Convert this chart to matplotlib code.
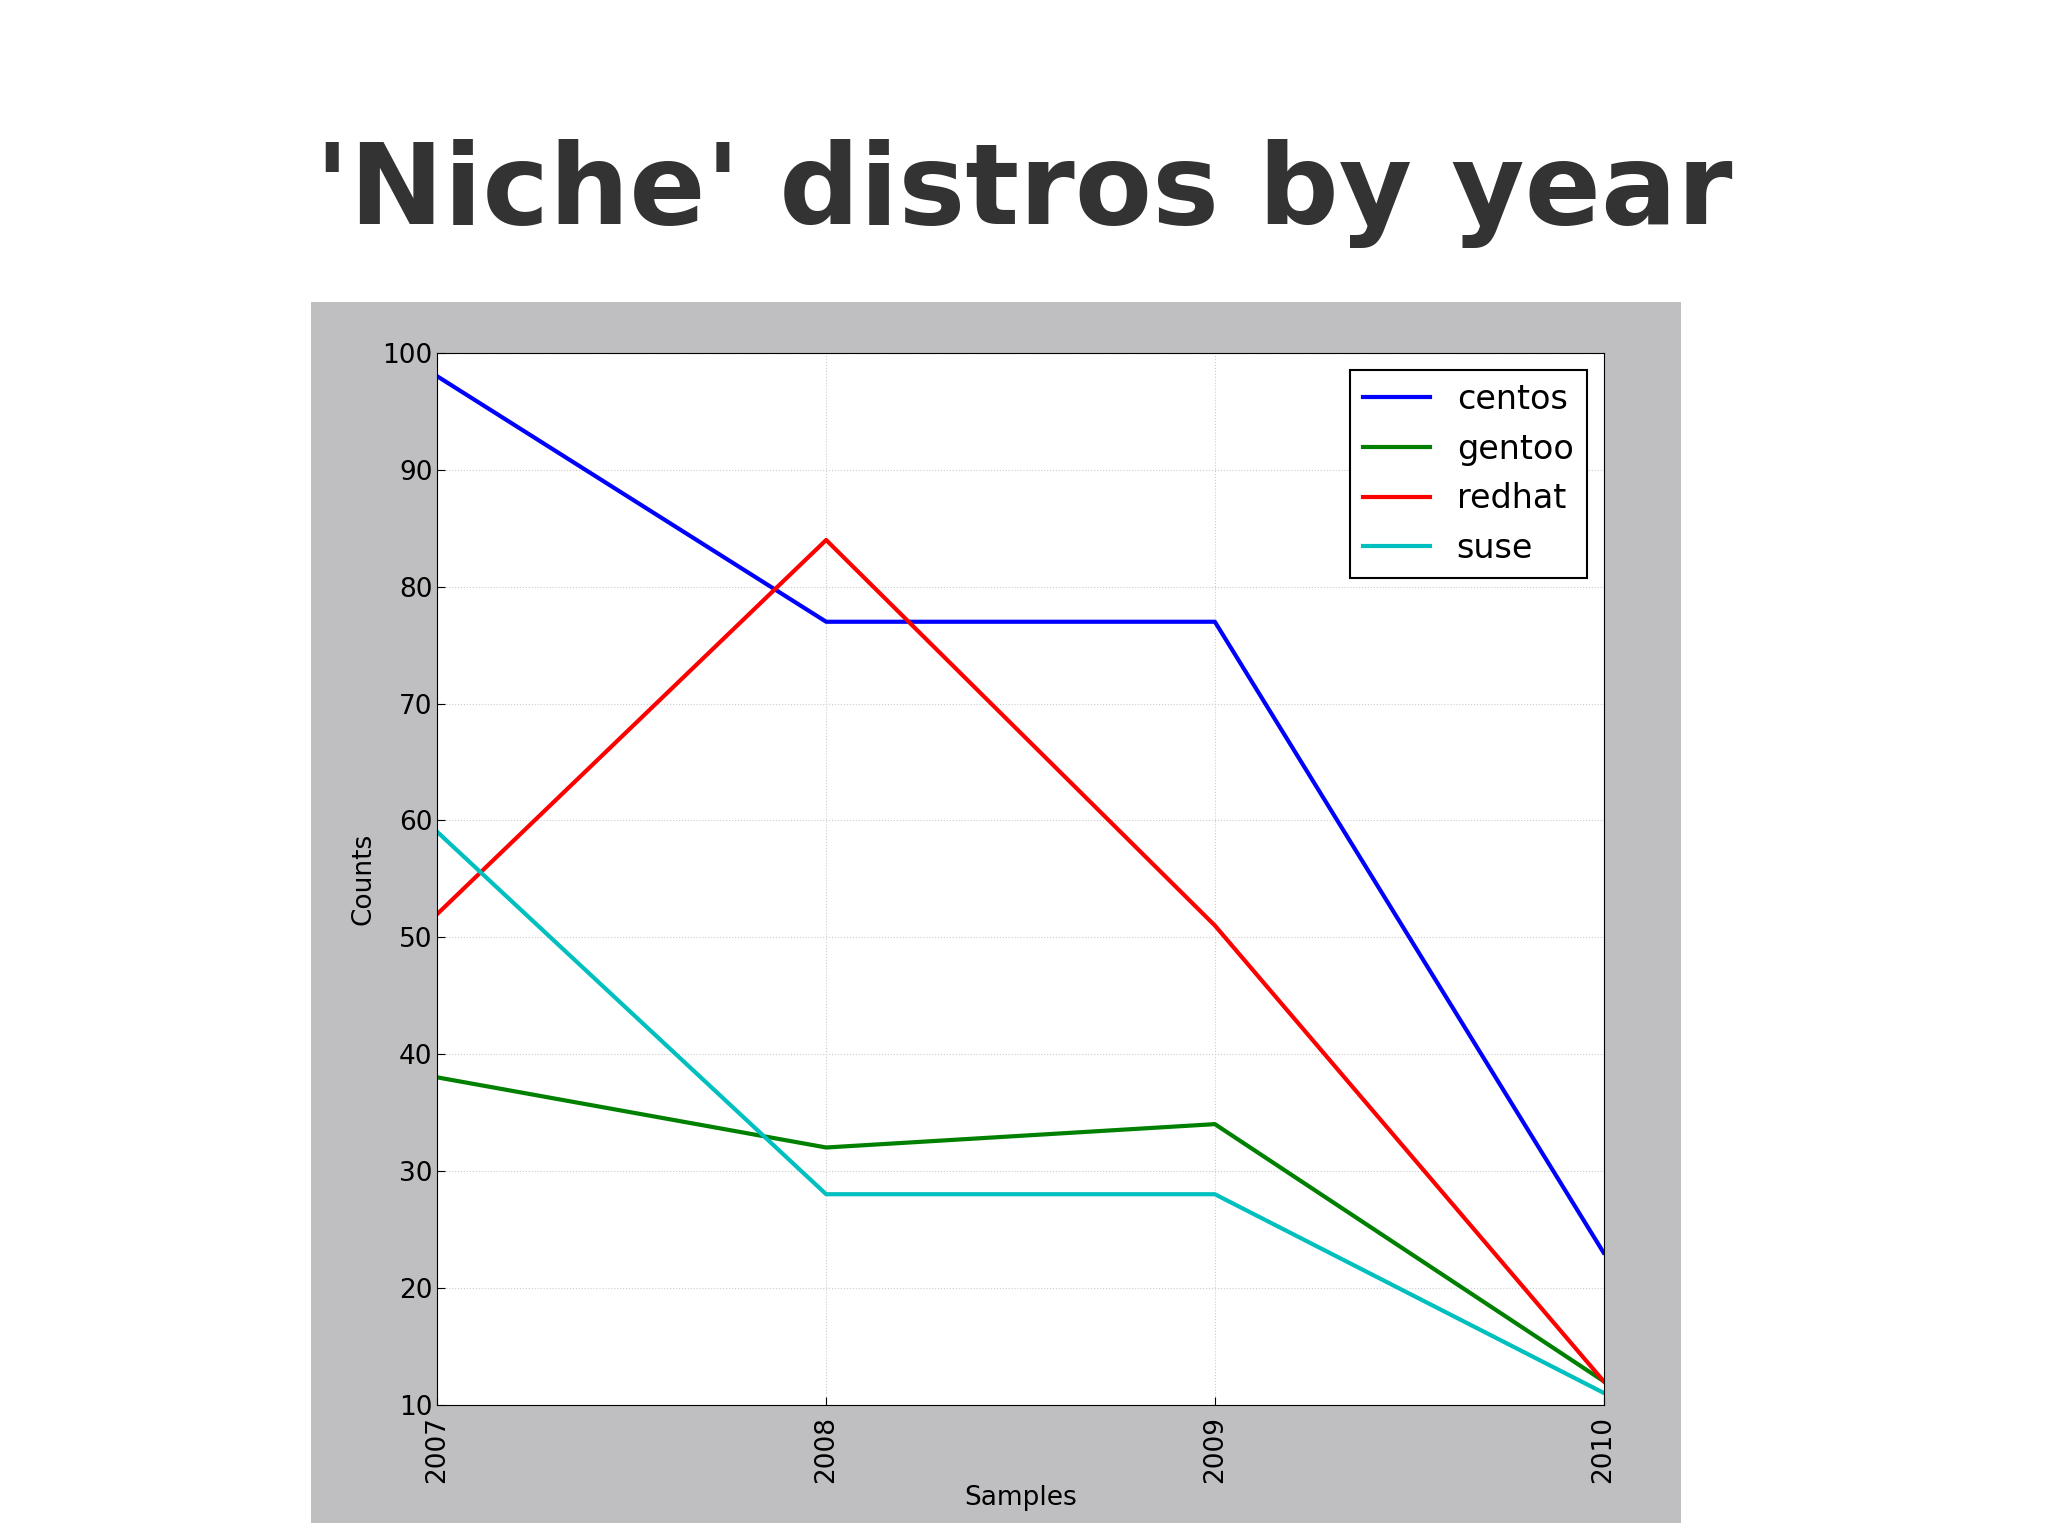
import matplotlib
matplotlib.use('Agg')
import matplotlib.pyplot as plt
from matplotlib.patches import Rectangle

years = ['2007', '2008', '2009', '2010']
centos = [98, 77, 77, 23]
gentoo = [38, 32, 34, 12]
redhat = [52, 84, 51, 12]
suse = [59, 28, 28, 11]

fig = plt.figure(figsize=(20.48, 15.35), dpi=100)
fig.patches.append(Rectangle((0.152, 0.008), 0.669, 0.795, transform=fig.transFigure,
                             facecolor='#bfbfc1', edgecolor='none', zorder=-10))
fig.text(0.5, 0.874, "'Niche' distros by year", ha='center', va='center',
         fontsize=81, fontweight='bold', color='#333333')

ax = fig.add_axes([0.2136, 0.085, 0.5694, 0.685])
ax.set_zorder(5)
x = range(len(years))
ax.plot(x, centos, color='#0000ff', lw=3, label='centos')
ax.plot(x, gentoo, color='#008000', lw=3, label='gentoo')
ax.plot(x, redhat, color='#ff0000', lw=3, label='redhat')
ax.plot(x, suse, color='#00bfbf', lw=3, label='suse')
ax.set_xlim(0, 3)
ax.set_ylim(10, 100)
ax.set_yticks(range(10, 101, 10))
ax.set_xticks(list(x))
ax.set_xticklabels(years, rotation=90)
ax.tick_params(labelsize=19, direction='in', length=6)
ax.tick_params(axis='x', pad=8)
ax.grid(True, linestyle=':', color='#cccccc')
ax.set_xlabel('Samples', fontsize=19, labelpad=2)
ax.set_ylabel('Counts', fontsize=19)
leg = ax.legend(loc='upper right', fontsize=24, fancybox=False, framealpha=1,
                edgecolor='black', handlelength=2)
leg.get_frame().set_linewidth(1.5)

fig.savefig('out.png')
